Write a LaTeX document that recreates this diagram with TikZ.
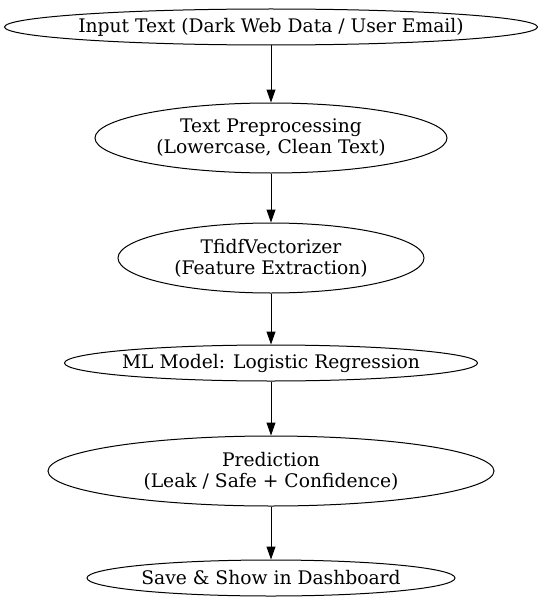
\documentclass[tikz,border=0pt]{standalone}
\usepackage{fontspec}
\setmainfont{DejaVu Serif}
\usetikzlibrary{shapes.geometric,arrows.meta}
\begin{document}
\begin{tikzpicture}[x=1pt,y=-1pt,
  nd/.style={draw,ellipse,line width=1pt,inner sep=0pt,
    label={[align=center,inner sep=0pt,font=\fontsize{18.7}{21}\selectfont]center:#1}},
  conn/.style={-{Triangle[length=13pt,width=9pt]},line width=1pt}]
\useasboundingbox (0,0) rectangle (543,610);
\node[nd={Input Text (Dark Web Data / User Email)},minimum width=533,minimum height=36] (a) at (271,27) {};
\node[nd={Text Preprocessing\\(Lowercase, Clean Text)},minimum width=352,minimum height=70] (b) at (271,138) {};
\node[nd={TfidfVectorizer\\(Feature Extraction)},minimum width=306,minimum height=70] (c) at (271,258) {};
\node[nd={ML Model: Logistic Regression},minimum width=413,minimum height=36] (d) at (271,363) {};
\node[nd={Prediction\\(Leak / Safe + Confidence)},minimum width=446,minimum height=70] (e) at (271,471) {};
\node[nd={Save \& Show in Dashboard},minimum width=368,minimum height=36] (f) at (271,578) {};
\draw[conn] (a) -- (b);
\draw[conn] (b) -- (c);
\draw[conn] (c) -- (d);
\draw[conn] (d) -- (e);
\draw[conn] (e) -- (f);
\end{tikzpicture}
\end{document}
